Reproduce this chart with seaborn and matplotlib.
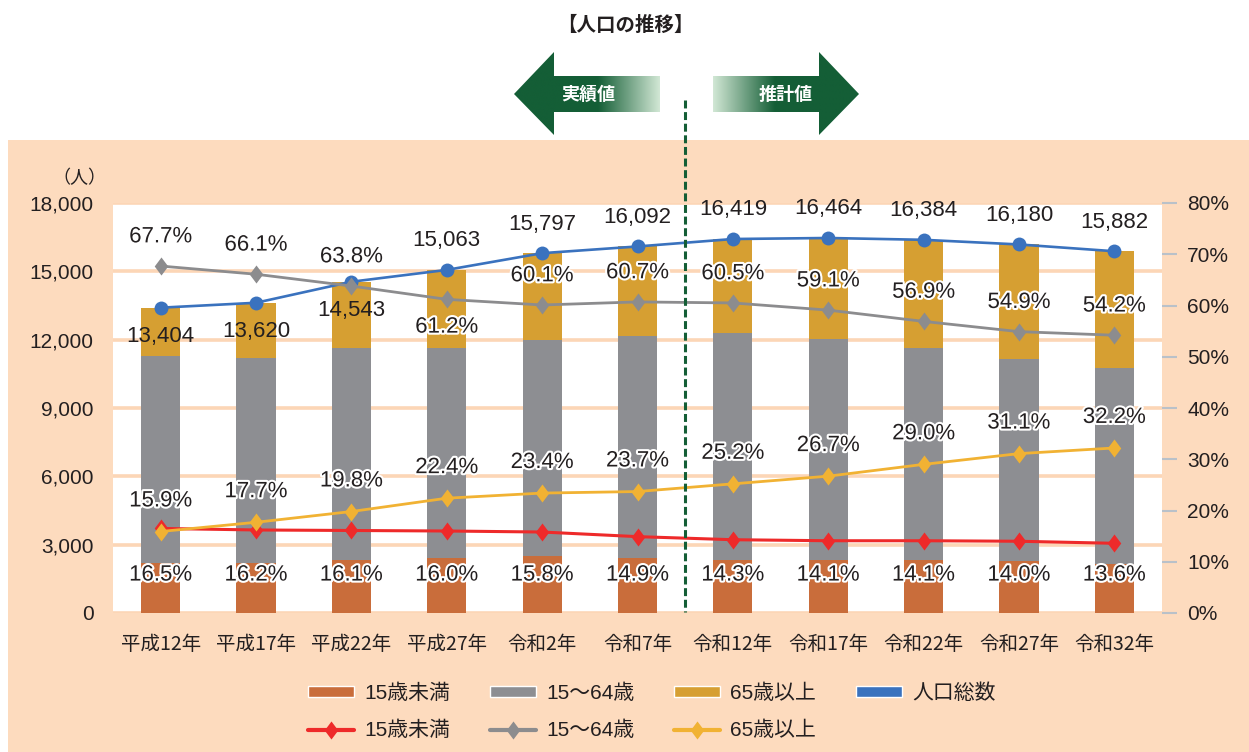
import numpy as np
import pandas as pd
import matplotlib
matplotlib.use('Agg')
import matplotlib.pyplot as plt
import seaborn as sns
from matplotlib.patches import Polygon, Rectangle, Patch
from matplotlib.lines import Line2D
import matplotlib.patheffects as pe
from matplotlib import transforms

# ---------------- data ----------------
years = ['平成12年', '平成17年', '平成22年', '平成27年', '令和2年', '令和7年',
         '令和12年', '令和17年', '令和22年', '令和27年', '令和32年']
total = [13404, 13620, 14543, 15063, 15797, 16092, 16419, 16464, 16384, 16180, 15882]
pop_u15 = [2212, 2206, 2341, 2410, 2496, 2398, 2348, 2321, 2310, 2265, 2160]
pop_1564 = [9074, 9003, 9278, 9219, 9494, 9768, 9933, 9730, 9322, 8883, 8608]
pop_65 = [2118, 2411, 2924, 3434, 3807, 3926, 4138, 4413, 4752, 5032, 5114]
pct_u15 = [16.5, 16.2, 16.1, 16.0, 15.8, 14.9, 14.3, 14.1, 14.1, 14.0, 13.6]
pct_1564 = [67.7, 66.1, 63.8, 61.2, 60.1, 60.7, 60.5, 59.1, 56.9, 54.9, 54.2]
pct_65 = [15.9, 17.7, 19.8, 22.4, 23.4, 23.7, 25.2, 26.7, 29.0, 31.1, 32.2]
left_ticks = [0, 3000, 6000, 9000, 12000, 15000, 18000]
right_ticks = [0, 10, 20, 30, 40, 50, 60, 70, 80]
legend_labels = ['15歳未満', '15～64歳', '65歳以上', '人口総数']

# ---------------- style ----------------
sns.set_style('white')
plt.rcParams['font.family'] = ['Liberation Sans', 'Noto Sans CJK JP', 'DejaVu Sans']
plt.rcParams['text.color'] = '#231F20'

C_U15 = '#C96D3B'
C_1564 = '#8D8E92'
C_65 = '#D69F32'
C_TOT = '#3A72BE'
L_U15 = '#EE2A2A'
L_1564 = '#8C8C8E'
L_65 = '#F1B233'
PEACH = '#FDDBBE'
GRID = '#FCD6B6'
GREEN = '#145E36'
PALE = '#D8ECDA'
TXT = '#231F20'

W, H = 1249, 752
fig = plt.figure(figsize=(W / 100, H / 100), dpi=100)
fig.patch.set_facecolor('white')

# overlay axes in pixel coordinates (background decorations)
ov = fig.add_axes([0, 0, 1, 1], zorder=-1)
ov.set_xlim(0, W)
ov.set_ylim(H, 0)
ov.axis('off')
ov.add_patch(Rectangle((8, 140), W - 8, H - 140, facecolor=PEACH, edgecolor='none'))
ov.text(625, 25, '【人口の推移】', ha='center', va='center', fontsize=14,
        fontweight='bold', family=['Noto Sans CJK JP'])
ov.text(79, 178, '（人）', ha='center', va='center', fontsize=13,
        family=['Noto Sans CJK JP'], color=TXT)

# gradient arrows
def grad_arrow(pts, x0, x1, dark_from, dark_to, label, lx):
    poly = Polygon(pts, closed=True, facecolor='none', edgecolor='none')
    ov.add_patch(poly)
    n = 300
    xs = np.linspace(x0, x1, n)
    d = np.array(matplotlib.colors.to_rgb(GREEN))
    p = np.array(matplotlib.colors.to_rgb(PALE))
    t = np.clip((xs - dark_from) / (dark_to - dark_from), 0, 1)  # 0 dark -> 1 pale
    cols = d[None, :] * (1 - t[:, None]) + p[None, :] * t[:, None]
    img = np.tile(cols[None, :, :], (2, 1, 1))
    im = ov.imshow(img, extent=(x0, x1, 140, 50), aspect='auto', interpolation='bilinear')
    im.set_clip_path(poly)
    ov.text(lx, 94, label, ha='center', va='center', color='white', fontsize=13,
            fontweight='bold', family=['Noto Sans CJK JP'])

grad_arrow([(514, 94), (554, 52), (554, 76), (660, 76), (660, 112), (554, 112), (554, 135)],
           514, 660, 598, 662, '実績値', 588)
grad_arrow([(859, 94), (819, 52), (819, 76), (713, 76), (713, 112), (819, 112), (819, 135)],
           711, 859, 775, 711, '推計値', 786)
ov.set_xlim(0, W)
ov.set_ylim(H, 0)

# ---------------- main axes ----------------
ax = fig.add_axes([113 / W, 1 - 613 / H, (1162 - 113) / W, (613 - 203) / H])
ax.set_facecolor('white')

cum2 = np.array(pop_u15) + np.array(pop_1564)
cum3 = cum2 + np.array(pop_65)
bar_kw = dict(width=0.41, saturation=1, errorbar=None, ax=ax, zorder=2,
              linewidth=0, edgecolor='none')
sns.barplot(x=years, y=cum3, color=C_65, **bar_kw)
sns.barplot(x=years, y=cum2, color=C_1564, **bar_kw)
sns.barplot(x=years, y=pop_u15, color=C_U15, **bar_kw)

xs = np.arange(len(years))
sns.lineplot(x=xs, y=total, ax=ax, color=C_TOT, linewidth=1.9, marker='o', markersize=10,
             markeredgewidth=0, zorder=4)

ax.set_ylim(0, 18000)
ax.set_xlim(-0.5, len(years) - 0.5)
ax.set_yticks(left_ticks)
ax.set_yticklabels([f'{v:,}' for v in left_ticks])
ax.set_xticks(xs)
ax.set_xticklabels(years, family=['Noto Sans CJK JP'])
ax.tick_params(axis='y', length=0, pad=14, labelsize=15, labelcolor=TXT)
ax.tick_params(axis='x', length=0, pad=15, labelsize=14, labelcolor=TXT)
ax.yaxis.grid(True, color=GRID, linewidth=2.6)
ax.xaxis.grid(False)
ax.set_axisbelow(True)
for s in ax.spines.values():
    s.set_visible(False)
ax.set_xlabel('')
ax.set_ylabel('')

for i, v in enumerate(total):
    off = -21 if i < 3 else 21
    ax.annotate(f'{v:,}', (i, v), xytext=(0, off), textcoords='offset points',
                ha='center', va='center', fontsize=16, color=TXT, zorder=6)

# ---------------- right axis ----------------
ax2 = ax.twinx()
diamond = [(0, 1), (0.75, 0), (0, -1), (-0.75, 0), (0, 1)]
sns.lineplot(x=xs, y=pct_u15, ax=ax2, color=L_U15, linewidth=2.2, marker=diamond,
             markersize=13, markeredgewidth=0, zorder=4)
sns.lineplot(x=xs, y=pct_1564, ax=ax2, color=L_1564, linewidth=2.0, marker=diamond,
             markersize=13, markeredgewidth=0, zorder=4)
sns.lineplot(x=xs, y=pct_65, ax=ax2, color=L_65, linewidth=2.0, marker=diamond,
             markersize=13, markeredgewidth=0, zorder=4)
ax2.set_ylim(0, 80)
ax2.set_xlim(-0.5, len(years) - 0.5)
ax2.set_yticks(right_ticks)
ax2.set_yticklabels([f'{v}%' for v in right_ticks])
ax2.tick_params(axis='y', length=11, width=1.5, color='#B9C1C9', pad=7, labelsize=15,
                labelcolor=TXT)
for s in ax2.spines.values():
    s.set_visible(False)
ax2.set_ylabel('')
ax2.grid(False)

halo = [pe.withStroke(linewidth=3, foreground='white')]
for i, v in enumerate(pct_1564):
    off = -20 if i == 3 else 21
    ax2.annotate(f'{v:.1f}%', (i, v), xytext=(0, off), textcoords='offset points',
                 ha='center', va='center', fontsize=16, color=TXT, path_effects=halo, zorder=6)
for i, v in enumerate(pct_65):
    ax2.annotate(f'{v:.1f}%', (i, v), xytext=(0, 22), textcoords='offset points',
                 ha='center', va='center', fontsize=16, color=TXT, path_effects=halo, zorder=6)
for i, v in enumerate(pct_u15):
    ax2.annotate(f'{v:.1f}%', (i, 7.4), ha='center', va='center', fontsize=16, color=TXT,
                 path_effects=halo, zorder=6)

# dashed separator between actual and estimated values
tr = transforms.blended_transform_factory(ax2.transData, ov.transData)
sep = Line2D([5.5, 5.5], [100, 612], transform=tr, color=GREEN, linewidth=2.2,
             dashes=(2.6, 1.2), clip_on=False, zorder=7)
ax2.add_line(sep)

# ---------------- legend ----------------
handles = [
    Patch(facecolor=C_U15), Line2D([], [], color=L_U15, lw=3, marker=diamond, markersize=13, markeredgewidth=0),
    Patch(facecolor=C_1564), Line2D([], [], color=L_1564, lw=3, marker=diamond, markersize=13, markeredgewidth=0),
    Patch(facecolor=C_65), Line2D([], [], color=L_65, lw=3, marker=diamond, markersize=13, markeredgewidth=0),
    Patch(facecolor=C_TOT),
]
labels = [legend_labels[0], legend_labels[0], legend_labels[1], legend_labels[1],
          legend_labels[2], legend_labels[2], legend_labels[3]]
leg = fig.legend(handles, labels, ncol=4, loc='center', bbox_to_anchor=(652 / W, 1 - 712 / H),
                 frameon=False, handlelength=2.2, handleheight=0.45,
                 handletextpad=0.5, columnspacing=1.9, labelspacing=0.85,
                 prop={'family': ['Liberation Sans', 'Noto Sans CJK JP'], 'size': 15})
for t in leg.get_texts():
    t.set_color(TXT)

fig.savefig('out.png', dpi=100, facecolor=fig.get_facecolor())
